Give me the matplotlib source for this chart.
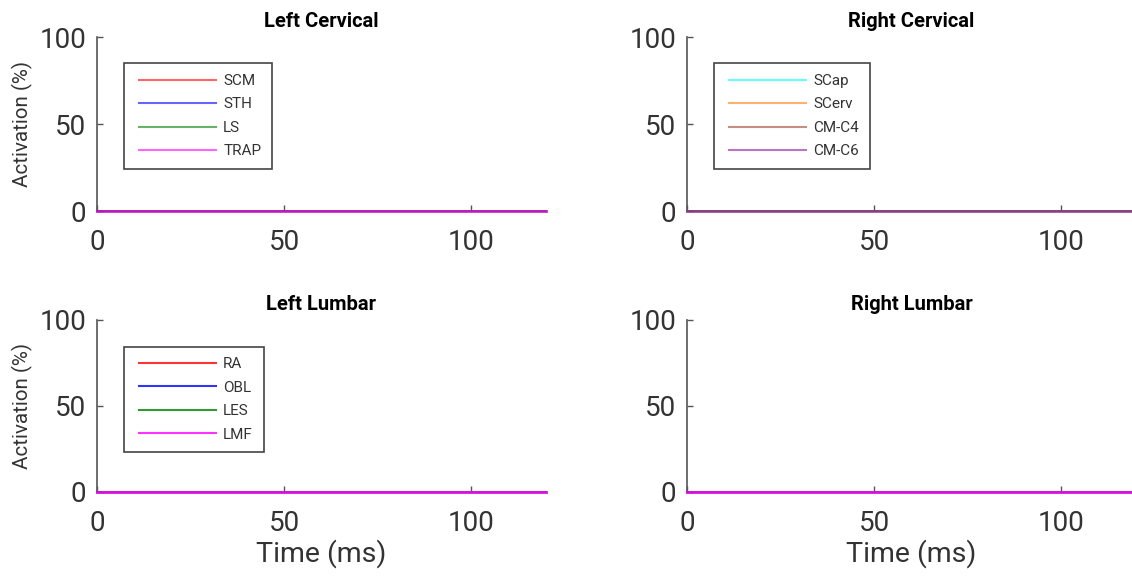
import matplotlib
matplotlib.use("Agg")
import matplotlib.pyplot as plt
from matplotlib.legend_handler import HandlerLine2D

plt.rcParams["font.family"] = ["Roboto", "DejaVu Sans"]

# Time base (ms) and activation traces (%) for each muscle group
TIME_MS = [0, 120]

LEFT_CERVICAL = {
    "SCM": [0, 0],
    "STH": [0, 0],
    "LS": [0, 0],
    "TRAP": [0, 0],
}
RIGHT_CERVICAL = {
    "SCap": [0, 0],
    "SCerv": [0, 0],
    "CM-C4": [0, 0],
    "CM-C6": [0, 0],
}
LEFT_LUMBAR = {
    "RA": [0, 0],
    "OBL": [0, 0],
    "LES": [0, 0],
    "LMF": [0, 0],
}
RIGHT_LUMBAR = {
    "RA": [0, 0],
    "OBL": [0, 0],
    "LES": [0, 0],
    "LMF": [0, 0],
}

CERVICAL_LEFT_COLORS = ["#ff0000", "#0000ff", "#008000", "#ff00ff"]
CERVICAL_RIGHT_COLORS = ["#00ffff", "#ff7f0e", "#a0412d", "#8a1aa0"]
LUMBAR_COLORS = ["#ff0000", "#0000ff", "#008000", "#ff00ff"]

PANELS = [
    # title, traces, colours, legend alpha, show legend, [left, bottom, width, height]
    ("Left Cervical", LEFT_CERVICAL, CERVICAL_LEFT_COLORS, 0.6, True, [0.0857, 0.636, 0.3965, 0.300]),
    ("Right Cervical", RIGHT_CERVICAL, CERVICAL_RIGHT_COLORS, 0.6, True, [0.6069, 0.636, 0.3965, 0.300]),
    ("Left Lumbar", LEFT_LUMBAR, LUMBAR_COLORS, 0.8, True, [0.0857, 0.152, 0.3965, 0.297]),
    ("Right Lumbar", RIGHT_LUMBAR, LUMBAR_COLORS, 0.8, False, [0.6069, 0.152, 0.3965, 0.297]),
]

TEXT_GREY = "#333333"
AXIS_GREY = "#555555"

fig = plt.figure(figsize=(11.32, 5.8), dpi=100)

for idx, (title, traces, colors, leg_alpha, show_legend, pos) in enumerate(PANELS):
    ax = fig.add_axes(pos)
    n = len(traces)
    for i, ((name, values), color) in enumerate(zip(traces.items(), colors)):
        # traces sit on top of each other; the last one dominates the colour
        alpha = leg_alpha if i == n - 1 else 0.25
        ax.plot(TIME_MS, values, color=color, alpha=alpha, lw=2.0,
                label=name, clip_on=False, zorder=3)

    ax.set_xlim(0, 120)
    ax.set_ylim(0, 100)
    ax.set_xticks([0, 50, 100])
    ax.set_yticks([0, 50, 100])

    for side in ("top", "right"):
        ax.spines[side].set_visible(False)
    for side in ("left", "bottom"):
        ax.spines[side].set_color(AXIS_GREY)
        ax.spines[side].set_linewidth(1.2)

    ax.tick_params(direction="in", length=4, width=1, color=AXIS_GREY,
                   labelsize=20, labelcolor=TEXT_GREY)
    ax.tick_params(axis="y", pad=7.5)
    ax.tick_params(axis="x", pad=13)

    ax.set_title(title, fontsize=14.5, fontweight="bold", pad=7)

    if idx % 2 == 0:
        ax.set_ylabel("Activation (%)", fontsize=14.8, color=TEXT_GREY, labelpad=5)
    if idx >= 2:
        ax.set_xlabel("Time (ms)", fontsize=20.5, color=TEXT_GREY, labelpad=2)

    if show_legend:
        top = 0.85 if idx < 2 else 0.843
        leg = ax.legend(loc="upper left", bbox_to_anchor=(0.06, top),
                        borderaxespad=0, fontsize=11, handlelength=5.3,
                        handletextpad=0.5, labelspacing=0.62, borderpad=0.7,
                        fancybox=False, framealpha=1, edgecolor="#444444",
                        handler_map={plt.Line2D: HandlerLine2D(xpad=0.3)})
        leg.get_frame().set_linewidth(1.2)
        for handle in leg.legend_handles:
            handle.set_alpha(leg_alpha)
            handle.set_linewidth(1.5)
        for text in leg.get_texts():
            text.set_color(TEXT_GREY)

fig.savefig("out.png", dpi=100)
